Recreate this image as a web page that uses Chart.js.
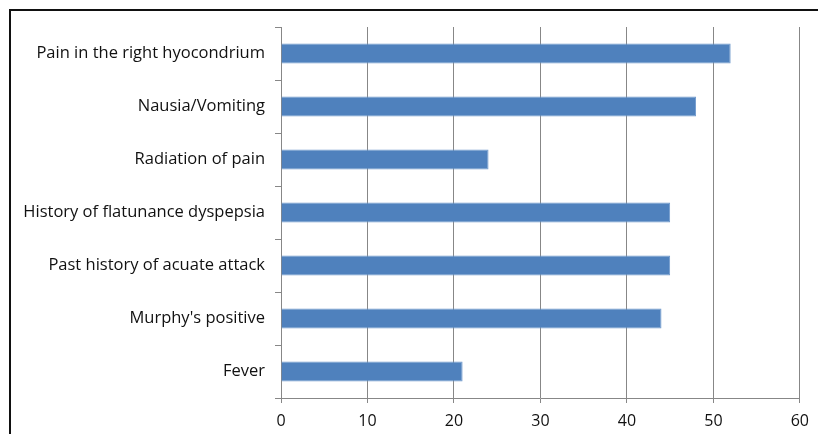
<!DOCTYPE html>
<html>
<head>
<meta charset="utf-8">
<script src="https://cdn.jsdelivr.net/npm/chart.js@4/dist/chart.umd.min.js"></script>
<style>
  html, body { margin: 0; padding: 0; background: #fff; overflow: hidden; }
  #wrap { position: relative; width: 818px; height: 434px; }
  #frame { position: absolute; left: 9px; top: 9px; width: 840px; height: 460px; border: 2px solid #111; box-sizing: border-box; }
  #chart { position: absolute; left: 0; top: 0; }
</style>
</head>
<body>
<div id="wrap">
  <div id="frame"></div>
  <canvas id="chart" width="818" height="434"></canvas>
</div>
<script>
const categories = [
  'Pain in the right hyocondrium',
  'Nausia/Vomiting',
  'Radiation of pain',
  'History of flatunance dyspepsia',
  'Past history of acuate attack',
  "Murphy's positive",
  'Fever',
];
const values = [52, 48, 24, 45, 45, 44, 21];
const xTicks = [0, 10, 20, 30, 40, 50, 60];

const GRID = '#878787';
const FAMILY = '"Open Sans", Lato, sans-serif';

new Chart(document.getElementById('chart'), {
  type: 'bar',
  data: {
    labels: categories,
    datasets: [{
      data: values,
      backgroundColor: '#4F81BD',
      borderColor: '#6F99CC',
      borderWidth: 1,
      barPercentage: 0.75,
      categoryPercentage: 0.5,
    }],
  },
  options: {
    indexAxis: 'y',
    responsive: false,
    animation: false,
    layout: { padding: { top: 27, right: 15, bottom: 0, left: 0 } },
    plugins: { legend: { display: false }, tooltip: { enabled: false } },
    scales: {
      x: {
        min: xTicks[0],
        max: xTicks[xTicks.length - 1],
        afterBuildTicks: (scale) => { scale.ticks = xTicks.map(v => ({ value: v })); },
        afterFit: (scale) => { scale.height = 36; },
        grid: { color: GRID, tickLength: 5, lineWidth: 1 },
        border: { color: GRID },
        ticks: { color: '#111', font: { family: FAMILY, size: 16 }, padding: 9 },
      },
      y: {
        afterFit: (scale) => { scale.width = 281; },
        grid: { drawOnChartArea: false, offset: true, color: GRID, tickLength: 6 },
        border: { color: GRID },
        ticks: { color: '#111', font: { family: FAMILY, size: 16.5 }, padding: 10 },
      },
    },
  },
});
</script>
</body>
</html>
